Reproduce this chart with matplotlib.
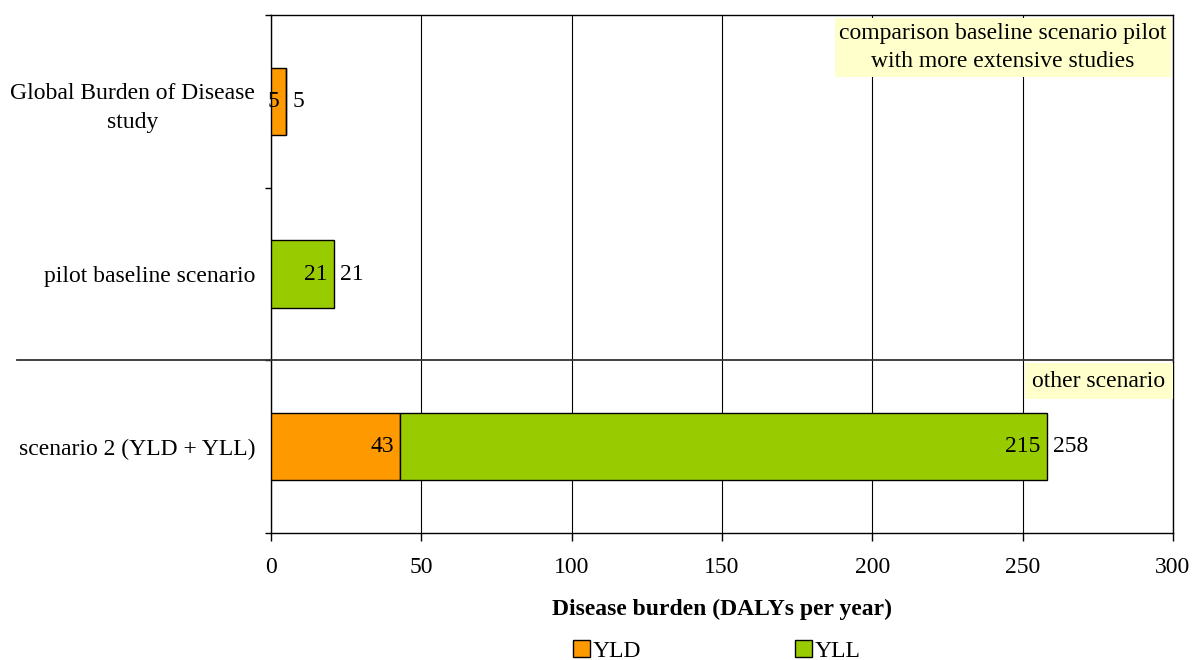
import matplotlib
matplotlib.use("Agg")
import matplotlib.pyplot as plt
import matplotlib.transforms as mtransforms
from matplotlib.lines import Line2D
from matplotlib.patches import Patch
import numpy as np

plt.rcParams['font.family'] = ['Liberation Serif', 'DejaVu Serif']

# Data (top-to-bottom order)
categories = ["Global Burden of Disease\nstudy", "pilot baseline scenario", "scenario 2 (YLD + YLL)"]
yld = [5, 0, 43]
yll = [0, 21, 215]
totals = [5, 21, 258]
series_names = ["YLD", "YLL"]
xticks = [0, 50, 100, 150, 200, 250, 300]

c_yld = "#FF9900"
c_yll = "#99CC00"

fig = plt.figure(figsize=(11.93, 6.6), dpi=100)
ax = fig.add_axes([271/1193, 1-533/660, (1173-271)/1193, (533-15)/660])

n = len(categories)
ypos = np.array([n - 1 - i + 0.5 for i in range(n)])
h = 0.39

ax.barh(ypos, yld, height=h, color=c_yld, edgecolor='black', linewidth=1, zorder=3)
ax.barh(ypos, yll, height=h, left=yld, color=c_yll, edgecolor='black', linewidth=1, zorder=3)

fs = 17
for i in range(n):
    if yld[i] > 0:
        ax.annotate(str(yld[i]), (yld[i], ypos[i]), xytext=(-4.5, 0), textcoords='offset points',
                    ha='right', va='center', fontsize=fs, zorder=5, annotation_clip=False)
    if yll[i] > 0:
        ax.annotate(str(yll[i]), (yld[i] + yll[i], ypos[i]), xytext=(-4.5, 0), textcoords='offset points',
                    ha='right', va='center', fontsize=fs, zorder=5)
    ax.annotate(str(totals[i]), (yld[i] + yll[i], ypos[i]), xytext=(4.5, 0), textcoords='offset points',
                ha='left', va='center', fontsize=fs, zorder=5)

ax.set_xlim(0, 300)
ax.set_ylim(0, n)
ax.set_xticks(xticks)
ax.set_xticklabels([str(t) for t in xticks], fontsize=fs)
ax.set_yticks(ypos)
ax.set_yticklabels(categories, fontsize=fs, multialignment='center', linespacing=1.5)
ax.set_yticks(np.arange(0, n + 1), minor=True)
ax.tick_params(axis='y', which='major', length=0, pad=11.5)
ax.tick_params(axis='y', which='minor', length=4.5, width=1, direction='out')
ax.tick_params(axis='x', which='major', length=5.5, width=1, direction='out', pad=11.5)

ax.xaxis.grid(True, color='black', linewidth=0.8, zorder=0)
ax.set_axisbelow(True)
for s in ax.spines.values():
    s.set_color('black')
    s.set_linewidth(1)

ax.set_xlabel("Disease burden (DALYs per year)", fontsize=fs, fontweight='bold', labelpad=15)

# separator line extending into label area
trans = mtransforms.blended_transform_factory(fig.transFigure, ax.transData)
fig.add_artist(Line2D([17/1193, 1173/1193], [1, 1], transform=trans, color='#333333', linewidth=1.3))

def px2x(p):
    return (p - 271) / (1173 - 271) * 300

# annotation boxes
ax.text(px2x(1003), n - 0.19, "comparison baseline scenario pilot\nwith more extensive studies",
        ha='center', va='center', fontsize=fs, multialignment='center', zorder=6, linespacing=1.45,
        bbox=dict(boxstyle='square,pad=0.2', facecolor='#FFFFCC', edgecolor='none'))
ax.text(px2x(1099), 1 - 0.12, "other scenario", ha='center', va='center', fontsize=fs, zorder=6,
        bbox=dict(boxstyle='square,pad=0.3', facecolor='#FFFFCC', edgecolor='none'))

handles = [Patch(facecolor=c_yld, edgecolor='black', linewidth=1),
           Patch(facecolor=c_yll, edgecolor='black', linewidth=1)]
fig.legend(handles, series_names, loc='center', bbox_to_anchor=(717/1193, 1-651/660), ncol=2,
           frameon=False, fontsize=fs, handlelength=0.7, handleheight=0.7, handletextpad=0.15,
           columnspacing=6.5)

fig.savefig("out.png", dpi=100)
